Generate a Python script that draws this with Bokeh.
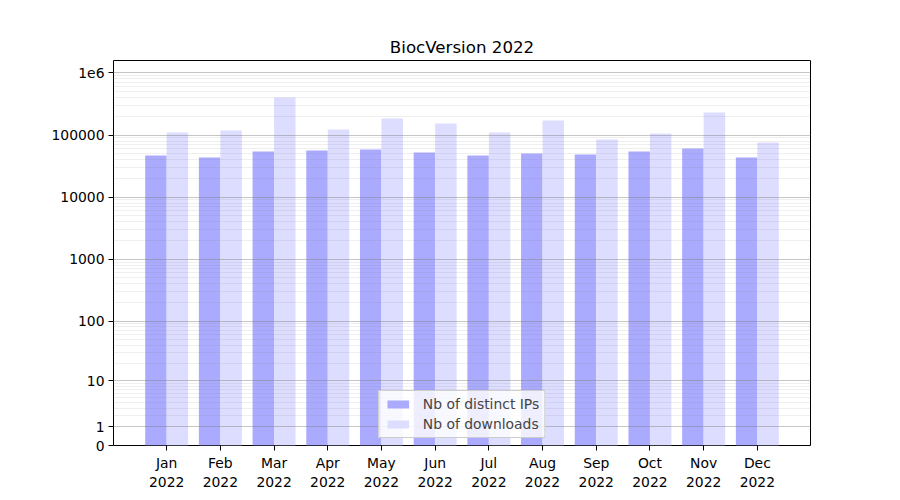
import numpy as np
from bokeh.plotting import figure
from bokeh.models import FixedTicker, Range1d, Legend, LegendItem, ColumnDataSource
from bokeh.embed import file_html
from bokeh.resources import INLINE

months = ["Jan", "Feb", "Mar", "Apr", "May", "Jun", "Jul", "Aug", "Sep", "Oct", "Nov", "Dec"]
year = "2022"
distinct_ips = [46800, 43400, 54200, 56300, 58400, 52200, 46800, 50400, 48500, 54200, 60600, 43400]
downloads = [110000, 118000, 402000, 123000, 184000, 153000, 110000, 171000, 84600, 106000, 230000, 75700]
y_tick_values = [0, 1, 10, 100, 1000, 10000, 100000, 1000000]
y_tick_labels = ["0", "1", "10", "100", "1000", "10000", "100000", "1e6"]

def tr(v):
    return np.log10(1.0 + np.asarray(v, dtype=float))

x = np.arange(len(months))
bw = 0.4
src = ColumnDataSource(dict(
    x_ip=x - bw / 2, x_dl=x + bw / 2,
    ip=tr(distinct_ips), dl=tr(downloads),
))

p = figure(
    output_backend="svg", toolbar_location=None,
    frame_width=697, frame_height=385,
    min_border_left=113, min_border_right=62, min_border_top=60, min_border_bottom=40,
    x_range=Range1d(-0.99, 11.99), y_range=Range1d(0, 6.2),
    title="BiocVersion 2022",
)
p.title.align = "center"
p.title.text_font = "DejaVu Sans"
p.title.text_font_size = "16.67px"
p.title.text_font_style = "normal"
p.title.text_color = "black"
p.title.standoff = 8

r_ip = p.vbar(x="x_ip", top="ip", bottom=0, width=bw, source=src, fill_color="#aaaaff", line_color=None)
r_dl = p.vbar(x="x_dl", top="dl", bottom=0, width=bw, source=src, fill_color="#ddddff", line_color=None)

major = [float(v) for v in tr(y_tick_values)]
minor = []
for k in range(0, 6):
    for m in range(2, 10):
        val = m * 10 ** k
        minor.append(float(tr(val)))
yt = FixedTicker(ticks=major, minor_ticks=minor)
p.yaxis.ticker = yt
p.yaxis.major_label_overrides = {major[i]: y_tick_labels[i] for i in range(len(major))}
p.xaxis.ticker = FixedTicker(ticks=list(range(len(months))))
p.xaxis.major_label_overrides = {i: f"{m}\n{year}" for i, m in enumerate(months)}

for ax in (p.xaxis[0], p.yaxis[0]):
    ax.major_label_text_font = "DejaVu Sans"
    ax.major_label_text_font_size = "13.9px"
    ax.major_label_text_color = "black"
    ax.axis_line_color = None
    ax.major_tick_line_color = "black"
    ax.major_tick_in = 0
    ax.major_tick_out = 5
    ax.minor_tick_line_color = None
    ax.major_label_standoff = 4

p.xgrid.grid_line_color = None
p.ygrid.ticker = yt
p.ygrid.grid_line_color = "gray"
p.ygrid.grid_line_alpha = 0.45
p.ygrid.minor_grid_line_color = "gray"
p.ygrid.minor_grid_line_alpha = 0.13
p.ygrid.level = "guide"

p.outline_line_color = "black"
p.outline_line_width = 1
p.outline_line_alpha = 1.0

legend = Legend(items=[
    LegendItem(label="Nb of distinct IPs", renderers=[r_ip]),
    LegendItem(label="Nb of downloads", renderers=[r_dl]),
], location="bottom_center")
legend.label_text_font = "DejaVu Sans"
legend.label_text_font_size = "13.9px"
legend.border_line_color = "#cccccc"
legend.border_line_alpha = 1
legend.background_fill_alpha = 0.8
legend.glyph_width = 27
legend.glyph_height = 10
legend.spacing = 4
legend.padding = 5
legend.margin = 7
legend.label_standoff = 12
legend.label_height = 16
p.add_layout(legend, "center")

open("out.html", "w").write(file_html(p, INLINE))
